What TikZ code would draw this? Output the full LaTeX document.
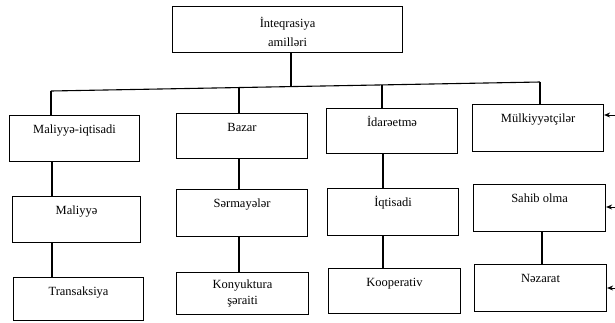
\documentclass[tikz,border=0pt]{standalone}
\usepackage{fontspec}
\setmainfont{Liberation Serif}
\usetikzlibrary{arrows.meta}
\begin{document}
\begin{tikzpicture}[x=1pt,y=-1pt,
  line width=1.1pt,
  cell/.style={draw, anchor=north west, inner sep=0pt,
    font=\fontsize{12.5}{15}\selectfont, text height=18pt},
  cellml/.style={draw, anchor=north west, inner sep=0pt, align=center,
    font=\fontsize{12.5}{16}\selectfont},
  arr/.style={-{Stealth[length=6pt,width=5pt]}, line width=0.9pt}]
\useasboundingbox (0,0) rectangle (615,322);

% root
\node[cellml, minimum width=230pt, minimum height=46pt] (top) at (172,6)
  {\rule{0pt}{15pt}İnteqrasiya\\[3pt]amilləri};

% first row
\node[cell, minimum width=130pt, text depth=28pt] (m1) at (9,115)   {Maliyyə-iqtisadi};
\node[cell, minimum width=131pt, text depth=27pt] (b1) at (176,113) {Bazar};
\node[cell, minimum width=131pt, text depth=27pt] (i1) at (326,108) {İdarəetmə};
\node[cell, minimum width=131pt, text depth=29pt] (k1) at (472,104) {Mülkiyyətçilər};

% second row
\node[cell, minimum width=128pt, text depth=28pt] (m2) at (12,196)  {Maliyyə};
\node[cell, minimum width=131pt, text depth=29pt] (b2) at (176,189) {Sərmayələr};
\node[cell, minimum width=131pt, text depth=29pt] (i2) at (327,188) {İqtisadi};
\node[cell, minimum width=132pt, text depth=29pt] (k2) at (473,184) {Sahib olma};

% third row
\node[cell, minimum width=130pt, text depth=25pt] (m3) at (13,277)  {Transaksiya};
\node[cellml, minimum width=132pt, minimum height=42pt] (b3) at (176,272)
  {Konyuktura\\şəraiti};
\node[cell, minimum width=132pt, text depth=27pt] (i3) at (328,268) {Kooperativ};
\node[cell, minimum width=132pt, text depth=29pt] (k3) at (474,264) {Nəzarat};

% junctions on the distribution bar
\coordinate (j1) at (51,91);
\coordinate (j2) at (239,87.5);
\coordinate (jt) at (291,86.5);
\coordinate (j3) at (382,85);
\coordinate (j4) at (540,82);

\draw (j1) -- (j4);
\draw (jt |- top.south) -- (jt);
\draw (j1 |- m1.north) -- (j1);
\draw (j2 |- b1.north) -- (j2);
\draw (j3 |- i1.north) -- (j3);
\draw (j4 |- k1.north) -- (j4);

% vertical links inside the columns
\coordinate (c1) at (52,0);
\coordinate (c2) at (239,0);
\coordinate (c3) at (383,0);
\coordinate (c4) at (542,0);
\draw (c1 |- m1.south) -- (c1 |- m2.north);
\draw (c1 |- m2.south) -- (c1 |- m3.north);
\draw (c2 |- b1.south) -- (c2 |- b2.north);
\draw (c2 |- b2.south) -- (c2 |- b3.north);
\draw (c3 |- i1.south) -- (c3 |- i2.north);
\draw (c3 |- i2.south) -- (c3 |- i3.north);
\draw (c4 |- k2.south) -- (c4 |- k3.north);

% incoming arrows on the right
\coordinate (e1) at (615,115);
\coordinate (e2) at (615,207);
\coordinate (e3) at (615,288);
\draw[arr] (e1) -- (e1 -| k1.east);
\draw[arr] (e2) -- (e2 -| k2.east);
\draw[arr] (e3) -- (e3 -| k3.east);
\end{tikzpicture}
\end{document}
